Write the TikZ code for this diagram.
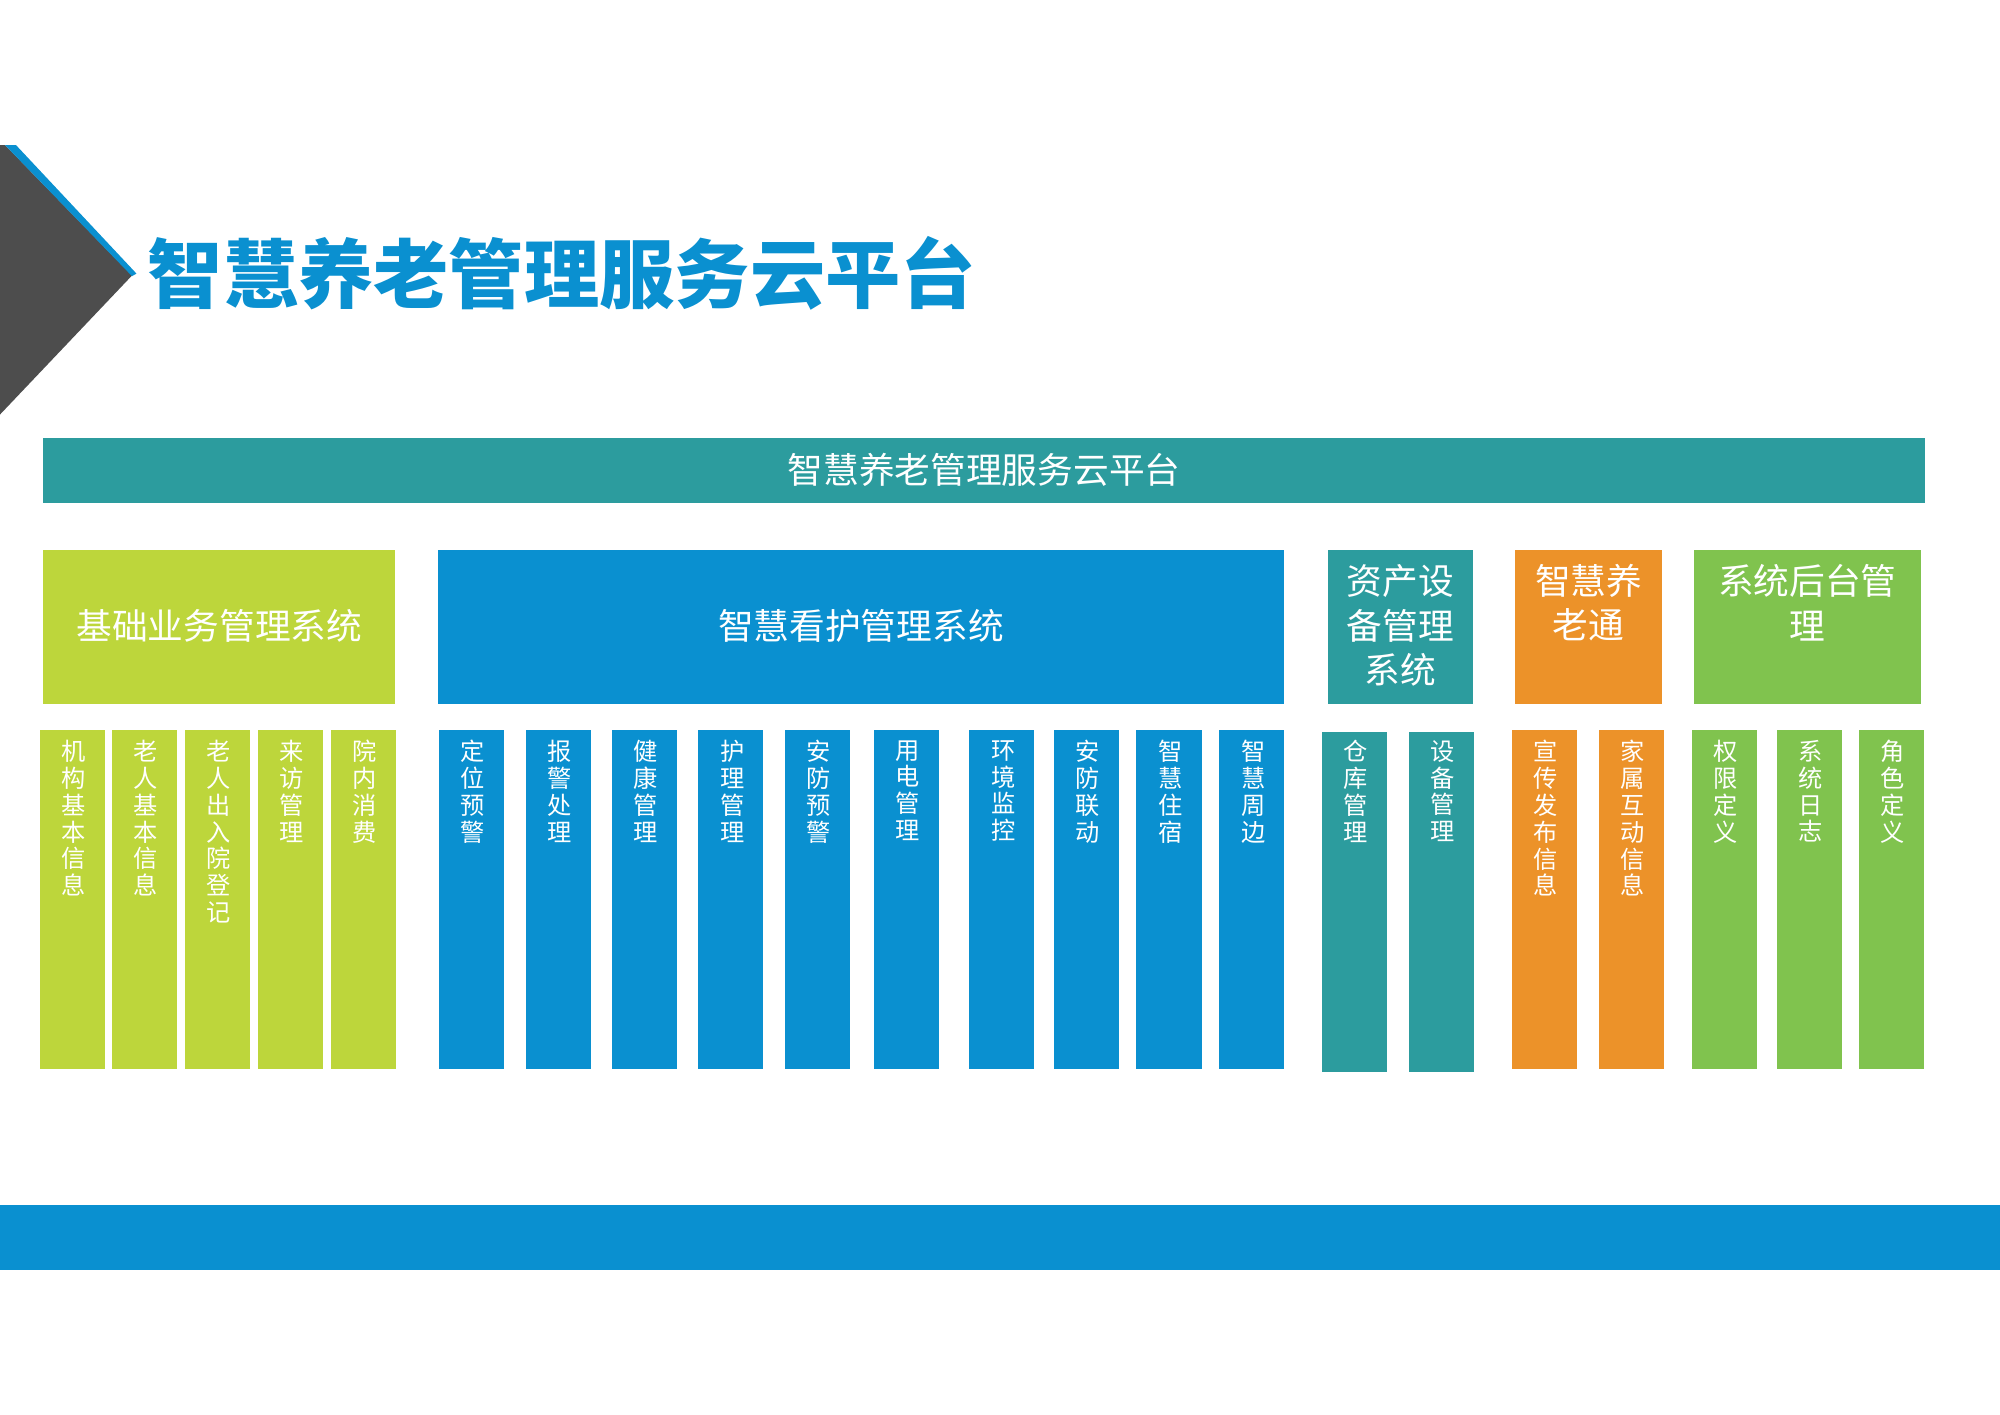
\documentclass[tikz,border=0pt]{standalone}
\usepackage{fontspec}
\newfontfamily\cjk{Noto Sans CJK SC}
\XeTeXlinebreaklocale "zh"
\XeTeXlinebreakskip = 0pt plus 1pt
\usetikzlibrary{calc}
\definecolor{lime}{RGB}{189,214,59}
\definecolor{skyblue}{RGB}{10,144,208}
\definecolor{teal}{RGB}{44,156,158}
\definecolor{orange}{RGB}{236,146,41}
\definecolor{leaf}{RGB}{128,195,78}
\definecolor{slate}{RGB}{77,77,77}

\begin{document}
\begin{tikzpicture}[x=1pt, y=-1pt]
    \tikzstyle{every node}=[inner sep=0, outer sep=0, text=white, font=\cjk]
    \tikzstyle{box}=[rectangle, anchor=north west]
    \tikzstyle{colbox}=[box, minimum width=51pt, minimum height=266pt]
    \tikzstyle{coltext}=[anchor=north, text width=20pt, align=center, font=\cjk\fontsize{19}{21}\selectfont]
    \tikzstyle{headtext}=[align=center, font=\cjk\fontsize{28}{35}\selectfont]
    \useasboundingbox (0,0) rectangle (1568,1108.6);
    % corner mark and title
    \fill[slate] (0,113.7) -- (3.9,113.7) -- (103.5,216) -- (0,325) -- cycle;
    \fill[skyblue] (3.9,113.7) -- (12.5,113.7) -- (107,214.5) -- (103.5,216.5) -- cycle;
    \node[anchor=west, text=skyblue, font=\cjk\bfseries\fontsize{59}{59}\selectfont] (title) at (116,214) {智慧养老管理服务云平台};
    % platform banner
    \node[box, fill=teal, minimum width=1475pt, minimum height=51pt] (pt) at (34,343) {};
    \node[headtext] at (pt.center) {智慧养老管理服务云平台};
    % subsystem headers
    \node[box, fill=lime, minimum width=276pt, minimum height=121pt] (jc) at (34,431) {};
    \node[box, fill=skyblue, minimum width=664pt, minimum height=121pt] (kh) at (343,431) {};
    \node[box, fill=teal, minimum width=114pt, minimum height=121pt] (zc) at (1041,431) {};
    \node[box, fill=orange, minimum width=115pt, minimum height=121pt] (ylt) at (1188,431) {};
    \node[box, fill=leaf, minimum width=178pt, minimum height=121pt] (ht) at (1328,431) {};
    \node[headtext] at ($(jc.center)+(0,-1)$) {基础业务管理系统};
    \node[headtext] at ($(kh.center)+(0,-1)$) {智慧看护管理系统};
    \node[headtext, text width=86pt] at ($(zc.center)+(0,-1)$) {资产设备管理系统};
    \node[headtext, text width=86pt] at ($(ylt.center)+(0,-19)$) {智慧养老通};
    \node[headtext] at ($(ht.center)+(0,-19)$) {系统后台管\\理};
    % columns
    \node[colbox, fill=lime] (b1) at (31,572) {};
    \node[colbox, fill=lime] (b2) at (88,572) {};
    \node[colbox, fill=lime] (b3) at (145,572) {};
    \node[colbox, fill=lime] (b4) at (202,572) {};
    \node[colbox, fill=lime] (b5) at (259.5,572) {};
    \node[colbox, fill=skyblue] (k1) at (344,572) {};
    \node[colbox, fill=skyblue] (k2) at (412,572) {};
    \node[colbox, fill=skyblue] (k3) at (480,572) {};
    \node[colbox, fill=skyblue] (k4) at (547.5,572) {};
    \node[colbox, fill=skyblue] (k5) at (615.5,572) {};
    \node[colbox, fill=skyblue] (k6) at (685,572) {};
    \node[colbox, fill=skyblue] (k7) at (760,572) {};
    \node[colbox, fill=skyblue] (k8) at (826,572) {};
    \node[colbox, fill=skyblue] (k9) at (891,572) {};
    \node[colbox, fill=skyblue] (k10) at (956,572) {};
    \node[colbox, fill=teal, minimum height=267pt] (z1) at (1036.5,573.7) {};
    \node[colbox, fill=teal, minimum height=267pt] (z2) at (1104.5,573.7) {};
    \node[colbox, fill=orange] (y1) at (1185.5,572) {};
    \node[colbox, fill=orange] (y2) at (1253.5,572) {};
    \node[colbox, fill=leaf] (h1) at (1326.5,572) {};
    \node[colbox, fill=leaf] (h2) at (1393,572) {};
    \node[colbox, fill=leaf] (h3) at (1457.5,572) {};
    \node[coltext] at ($(b1.north)+(1,8.5)$) {机构基本信息};
    \node[coltext] at ($(b2.north)+(1,8.5)$) {老人基本信息};
    \node[coltext] at ($(b3.north)+(1,8.5)$) {老人出入院登记};
    \node[coltext] at ($(b4.north)+(1,8.5)$) {来访管理};
    \node[coltext] at ($(b5.north)+(1,8.5)$) {院内消费};
    \node[coltext] at ($(k1.north)+(1,8.5)$) {定位预警};
    \node[coltext] at ($(k2.north)+(1,8.5)$) {报警处理};
    \node[coltext] at ($(k3.north)+(1,8.5)$) {健康管理};
    \node[coltext] at ($(k4.north)+(1,8.5)$) {护理管理};
    \node[coltext] at ($(k5.north)+(1,8.5)$) {安防预警};
    \node[coltext] at ($(k6.north)+(1,8.5)$) {用电管理};
    \node[coltext] at ($(k7.north)+(1,8.5)$) {环境监控};
    \node[coltext] at ($(k8.north)+(1,8.5)$) {安防联动};
    \node[coltext] at ($(k9.north)+(1,8.5)$) {智慧住宿};
    \node[coltext] at ($(k10.north)+(1,8.5)$) {智慧周边};
    \node[coltext] at ($(z1.north)+(1,6.8)$) {仓库管理};
    \node[coltext] at ($(z2.north)+(1,6.8)$) {设备管理};
    \node[coltext] at ($(y1.north)+(1,8.5)$) {宣传发布信息};
    \node[coltext] at ($(y2.north)+(1,8.5)$) {家属互动信息};
    \node[coltext] at ($(h1.north)+(1,8.5)$) {权限定义};
    \node[coltext] at ($(h2.north)+(1,8.5)$) {系统日志};
    \node[coltext] at ($(h3.north)+(1,8.5)$) {角色定义};
    % footer bar
    \node[box, fill=skyblue, minimum width=1568pt, minimum height=51pt] (bar) at (0,945) {};
\end{tikzpicture}
\end{document}
